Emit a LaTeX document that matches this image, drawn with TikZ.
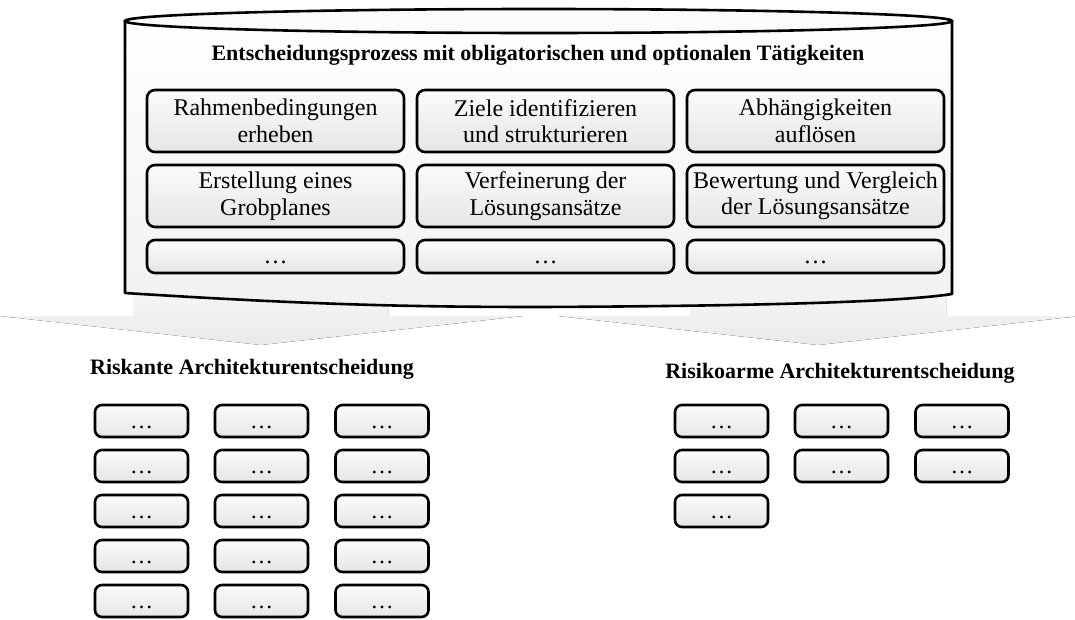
\documentclass[tikz,border=0pt]{standalone}
\usepackage{fontspec}
\setmainfont{Liberation Serif}
\begin{document}
\begin{tikzpicture}[x=1pt,y=-1pt,
  boxfill/.style={top color=gray!3, bottom color=gray!20},
  frame/.style={draw=black, line width=2.6pt, boxfill, inner sep=0pt, align=center},
  cell/.style={frame, rounded corners=8pt, minimum width=257pt, minimum height=62pt,
    font=\fontsize{24}{26.5}\selectfont},
  lowcell/.style={cell, minimum height=33pt, text height=16pt, text depth=2.5pt},
  mini/.style={frame, rounded corners=7pt, minimum width=93pt, minimum height=32pt,
    font=\fontsize{23}{26}\selectfont, text height=16pt, text depth=2pt},
  heading/.style={font=\fontsize{22}{26}\selectfont\bfseries, inner sep=0pt},
  bigarrow/.style={top color=gray!5, bottom color=gray!17}
]
\useasboundingbox (0,0) rectangle (1075,619);

% the two wide arrows behind the container
\fill[bigarrow] (133,280) -- (388,280) -- (388,316) -- (523,316) -- (261,345)
  -- (0,316) -- (133,316) -- cycle;
\fill[bigarrow] (690,280) -- (946,280) -- (946,316) -- (1080,316) -- (818,345)
  -- (558,316) -- (690,316) -- cycle;

% container body
\draw[line width=2.6pt, top color=white, bottom color=gray!11, line join=round]
  (125,21) -- (125,293) .. controls (300,304) and (400,307) .. (540,307)
  .. controls (760,306) and (900,302) .. (952,294) -- (952,21);
% container lid
\draw[line width=2.6pt, fill=white!97!gray] (538.5,21) ellipse [x radius=413.5, y radius=12];

\node[heading] (title) at (538,55)
  {Entscheidungsprozess mit obligatorischen und optionalen Tätigkeiten};

\node[cell] (a1) at (275.5,121) {Rahmenbedingungen\\erheben};
\node[cell] (a2) at (545.5,121) {Ziele identifizieren\\und strukturieren};
\node[cell] (a3) at (815.5,121) {Abhängigkeiten\\auflösen};
\node[cell] (b1) at (275.5,196) {Erstellung eines\\Grobplanes};
\node[cell] (b2) at (545.5,196) {Verfeinerung der\\Lösungsansätze};
\node[cell] (b3) at (815.5,196) {Bewertung und Vergleich\\der Lösungsansätze};
\node[lowcell] (c1) at (275.5,256.5) {\ldots};
\node[lowcell] (c2) at (545.5,256.5) {\ldots};
\node[lowcell] (c3) at (815.5,256.5) {\ldots};

\node[heading] (risky) at (252,369) {Riskante Architekturentscheidung};
\node[heading] (safe) at (840,373) {Risikoarme Architekturentscheidung};

% placeholder activities, high-risk path
\foreach \c/\x in {1/141.5,2/261.5,3/382}
  \foreach \r/\y in {1/421,2/466,3/511,4/556,5/601}
    \node[mini] (r\r\c) at (\x,\y) {\ldots};

% placeholder activities, low-risk path
\foreach \c/\x in {1/721.5,2/841.5,3/962}
  \foreach \r/\y in {1/421,2/466}
    \node[mini] (s\r\c) at (\x,\y) {\ldots};
\node[mini] (s31) at (721.5,511) {\ldots};
\end{tikzpicture}
\end{document}
